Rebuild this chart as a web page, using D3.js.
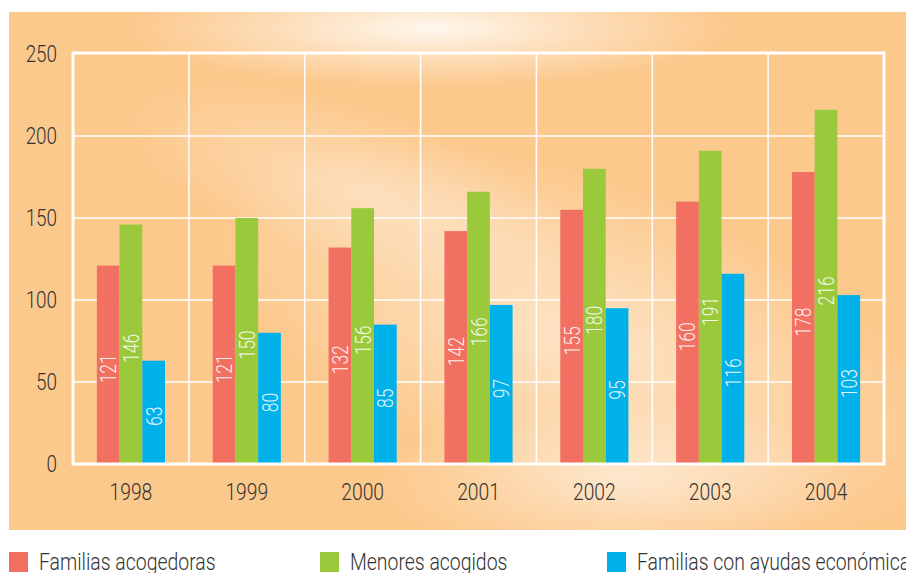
<!DOCTYPE html>
<html>
<head>
<meta charset="utf-8">
<script src="https://cdn.jsdelivr.net/npm/d3@7"></script>
<style>
  html, body { margin: 0; padding: 0; background: #ffffff; }
  svg { display: block; }
  text { font-family: Roboto, "Liberation Sans", sans-serif; font-weight: 300; }
</style>
</head>
<body>
<svg id="chart" width="906" height="573"></svg>
<script>
// Years on the x axis
const years = ["1998", "1999", "2000", "2001", "2002", "2003", "2004"];
// Series names (legend)
const seriesNames = ["Familias acogedoras", "Menores acogidos", "Familias con ayudas económica"];
// Series values, one per year
const familiasAcogedoras = [121, 121, 132, 142, 155, 160, 178];
const menoresAcogidos = [146, 150, 156, 166, 180, 191, 216];
const familiasAyudas = [63, 80, 85, 97, 95, 116, 103];
// Y axis ticks
const yTicks = [0, 50, 100, 150, 200, 250];

const colors = ["#F27062", "#9BC93C", "#00B1E9"];
const seriesValues = [familiasAcogedoras, menoresAcogidos, familiasAyudas];
const textColor = "#333333";
const narrow = 0.82; // horizontal squeeze for a condensed look

const svg = d3.select("#chart");
const W = 906, H = 573;

// ---- Background panel with soft light glows ----
const defs = svg.append("defs");
const glow = defs.append("radialGradient").attr("id", "glow");
glow.append("stop").attr("offset", "0%").attr("stop-color", "#ffffff").attr("stop-opacity", 0.85);
glow.append("stop").attr("offset", "50%").attr("stop-color", "#ffffff").attr("stop-opacity", 0.4);
glow.append("stop").attr("offset", "100%").attr("stop-color", "#ffffff").attr("stop-opacity", 0);
const glowSoft = defs.append("radialGradient").attr("id", "glowSoft");
glowSoft.append("stop").attr("offset", "0%").attr("stop-color", "#ffffff").attr("stop-opacity", 0.5);
glowSoft.append("stop").attr("offset", "60%").attr("stop-color", "#ffffff").attr("stop-opacity", 0.2);
glowSoft.append("stop").attr("offset", "100%").attr("stop-color", "#ffffff").attr("stop-opacity", 0);
defs.append("clipPath").attr("id", "panelClip")
  .append("rect").attr("x", 9).attr("y", 12).attr("width", W - 9).attr("height", 518);

svg.append("rect").attr("x", 9).attr("y", 12).attr("width", W - 9).attr("height", 518)
  .attr("fill", "#FCC98D");
const glows = svg.append("g").attr("clip-path", "url(#panelClip)");
glows.append("ellipse").attr("cx", 580).attr("cy", 340).attr("rx", 380).attr("ry", 160)
  .attr("transform", "rotate(20,580,340)").attr("fill", "url(#glowSoft)");
glows.append("ellipse").attr("cx", 620).attr("cy", 480).attr("rx", 240).attr("ry", 80)
  .attr("fill", "url(#glowSoft)");
glows.append("ellipse").attr("cx", 360).attr("cy", 190).attr("rx", 240).attr("ry", 80)
  .attr("transform", "rotate(18,360,190)").attr("fill", "url(#glowSoft)").attr("opacity", 0.7);
glows.append("ellipse").attr("cx", 430).attr("cy", 28).attr("rx", 300).attr("ry", 58)
  .attr("fill", "url(#glow)");

// ---- Scales ----
const plot = { left: 73, right: 884, top: 54, bottom: 464 };
const x0 = d3.scaleBand().domain(years).range([plot.left, plot.right]).padding(0);
const x1 = d3.scaleBand().domain(d3.range(3)).range([0, x0.bandwidth()])
  .paddingInner(0).paddingOuter(1.05);
const y = d3.scaleLinear().domain([0, 250]).range([plot.bottom, plot.top]);

// ---- Grid ----
const grid = svg.append("g");
grid.selectAll("line.h").data(yTicks.slice(1, -1)).join("line")
  .attr("x1", plot.left).attr("x2", plot.right)
  .attr("y1", d => y(d)).attr("y2", d => y(d))
  .attr("stroke", "#ffffff").attr("stroke-width", 1.5);
grid.selectAll("line.v").data(years.slice(1)).join("line")
  .attr("x1", d => x0(d)).attr("x2", d => x0(d))
  .attr("y1", plot.top).attr("y2", plot.bottom)
  .attr("stroke", "#ffffff").attr("stroke-width", 1.5);

// ---- Bars with rotated value labels ----
const groups = svg.append("g").selectAll("g").data(years).join("g")
  .attr("transform", d => `translate(${x0(d)},0)`);
groups.each(function(yr, i) {
  const g = d3.select(this);
  seriesValues.forEach((vals, s) => {
    const v = vals[i];
    g.append("rect")
      .attr("x", x1(s)).attr("width", x1.bandwidth())
      .attr("y", y(v)).attr("height", y(0) - y(v))
      .attr("fill", colors[s]);
    const cx = x1(s) + x1.bandwidth() / 2;
    const cy = (y(v) + y(0)) / 2 + 4;
    g.append("text")
      .attr("transform", `translate(${cx + 8},${cy}) rotate(-90) scale(0.78,1)`)
      .attr("text-anchor", "middle")
      .attr("font-size", 22.5)
      .attr("fill", "#ffffff").attr("fill-opacity", 0.9)
      .text(v);
  });
});

// ---- Frame ----
svg.append("rect")
  .attr("x", plot.left).attr("y", plot.top - 1)
  .attr("width", plot.right - plot.left).attr("height", plot.bottom - plot.top + 1)
  .attr("fill", "none").attr("stroke", "#ffffff").attr("stroke-width", 3);

// ---- Y axis labels ----
svg.append("g").selectAll("text").data(yTicks).join("text")
  .attr("transform", d => `translate(57,${y(d) + 8}) scale(${narrow},1)`)
  .attr("text-anchor", "end")
  .attr("font-size", 23).attr("fill", textColor)
  .text(d => d);

// ---- X axis labels ----
svg.append("g").selectAll("text").data(years).join("text")
  .attr("transform", d => `translate(${x0(d) + x0.bandwidth() / 2},500) scale(${narrow},1)`)
  .attr("text-anchor", "middle")
  .attr("font-size", 23.5).attr("fill", textColor)
  .text(d => d);

// ---- Legend ----
const legendX = [9, 320, 607];
const legend = svg.append("g").selectAll("g").data(seriesNames).join("g")
  .attr("transform", (d, i) => `translate(${legendX[i]},552)`);
legend.append("rect").attr("width", 19).attr("height", 20).attr("fill", (d, i) => colors[i]);
legend.append("text")
  .attr("transform", `translate(30,18) scale(0.845,1)`)
  .attr("font-size", 23).attr("fill", textColor).text(d => d);
</script>
</body>
</html>
